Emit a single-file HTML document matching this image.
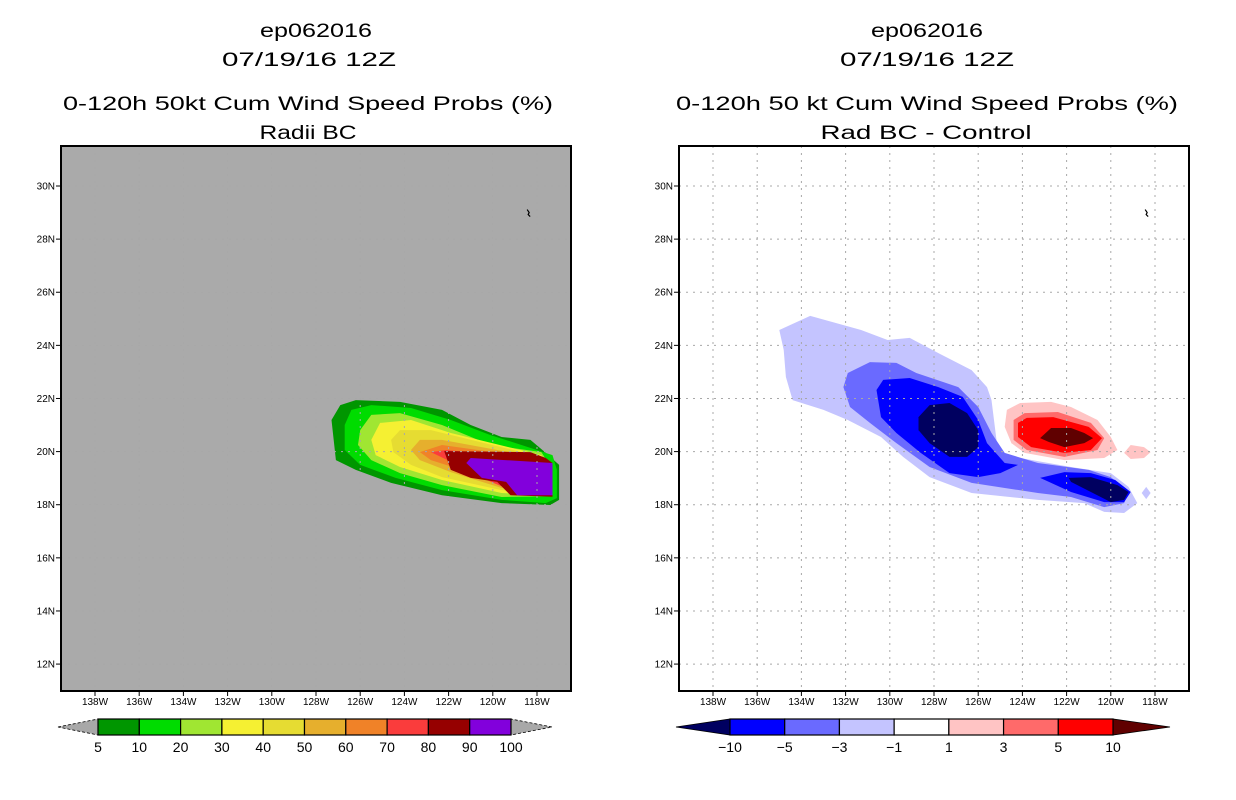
<!DOCTYPE html>
<html><head><meta charset="utf-8"><style>
html,body{margin:0;padding:0;background:#fff;}
svg{display:block;font-family:"Liberation Sans",sans-serif;}
</style></head><body>
<svg id="chart" width="1236" height="800" viewBox="0 0 1236 800">
<g font-size="19" text-anchor="middle" fill="#000">
<text x="316" y="37" textLength="112" lengthAdjust="spacingAndGlyphs">ep062016</text>
<text x="309" y="66" textLength="174" lengthAdjust="spacingAndGlyphs">07/19/16 12Z</text>
<text x="308" y="110" textLength="490" lengthAdjust="spacingAndGlyphs">0-120h 50kt Cum Wind Speed Probs (%)</text>
<text x="308" y="139" textLength="97" lengthAdjust="spacingAndGlyphs">Radii BC</text>
</g>
<g font-size="19" text-anchor="middle" fill="#000">
<text x="927" y="37" textLength="112" lengthAdjust="spacingAndGlyphs">ep062016</text>
<text x="927" y="66" textLength="174" lengthAdjust="spacingAndGlyphs">07/19/16 12Z</text>
<text x="927" y="110" textLength="502" lengthAdjust="spacingAndGlyphs">0-120h 50 kt Cum Wind Speed Probs (%)</text>
<text x="926" y="139" textLength="211" lengthAdjust="spacingAndGlyphs">Rad BC - Control</text>
</g>
<g id="left"></g>
<g id="right"></g>
<g id="cbl"></g>
<g id="cbr"></g>
</svg>
<script>
const lonTicks = [138,136,134,132,130,128,126,124,122,120,118];
const latTicks = [30,28,26,24,22,20,18,16,14,12];
const leftLevels = [5,10,20,30,40,50,60,70,80,90,100];
const leftColors = ['#009600','#00dc00','#a0e632','#f5f032','#e6dc32','#e6af2d','#f08228','#fa3c3c','#960000','#8200dc'];
const rightLevels = [-10,-5,-3,-1,1,3,5,10];
const rightColors = ['#000060','#0000ff','#6a6aff','#c4c4ff','#ffffff','#ffc4c4','#ff6a6a','#ff0000','#600000'];
// contour polygons [lonW, latN]
const probContours = [
 {lvl:5, pts:[[127.3,21.19],[126.9,21.75],[126.2,21.94],[124.2,21.87],[122.3,21.57],[121.0,21.0],[119.6,20.55],[118.3,20.44],[117.6,19.95],[117.0,19.5],[117.0,18.18],[117.4,17.99],[119.6,18.06],[122.3,18.36],[124.6,18.82],[126.2,19.31],[127.1,19.68]]},
 {lvl:10, pts:[[126.7,21.0],[126.4,21.57],[125.5,21.75],[123.7,21.64],[121.9,21.19],[120.1,20.62],[118.7,20.25],[117.3,19.87],[117.1,19.31],[117.1,18.25],[117.6,18.06],[119.6,18.18],[122.3,18.55],[124.4,19.01],[126.0,19.5],[126.7,20.06]]},
 {lvl:20, pts:[[126.0,20.81],[125.5,21.38],[124.2,21.45],[122.3,21.0],[120.1,20.25],[117.8,19.98],[117.3,19.31],[117.3,18.32],[119.6,18.29],[122.3,18.74],[124.2,19.19],[125.5,19.68],[126.1,20.25]]},
 {lvl:30, pts:[[125.5,20.44],[125.1,21.08],[123.7,21.19],[121.9,20.7],[117.8,19.87],[117.3,19.31],[117.3,18.36],[119.6,18.44],[122.3,18.93],[124.2,19.42],[125.3,19.87]]},
 {lvl:40, pts:[[124.6,20.44],[124.2,20.81],[122.8,20.81],[117.8,19.8],[117.4,19.31],[117.4,18.40],[119.6,18.55],[122.3,19.04],[123.7,19.5],[124.5,19.98]]},
 {lvl:50, pts:[[123.7,20.06],[123.3,20.44],[122.3,20.44],[117.8,19.76],[117.5,19.23],[117.5,18.44],[119.6,18.63],[121.9,19.23],[123.3,19.68]]},
 {lvl:60, pts:[[123.3,19.98],[122.3,20.25],[117.8,19.72],[117.5,19.23],[117.5,18.48],[119.4,18.63],[121.4,19.31],[122.8,19.68]]},
 {lvl:70, pts:[[122.8,19.98],[122.1,20.06],[117.6,19.68],[117.5,18.48],[119.2,18.55],[120.5,19.01],[121.4,19.42]]},
 {lvl:80, pts:[[122.2,20.02],[118.3,19.98],[117.6,19.76],[117.3,19.57],[117.3,18.3],[119.2,18.36],[119.8,18.86],[121.0,19.01],[121.9,19.31]]},
 {lvl:90, pts:[[121.2,19.57],[121.0,19.76],[117.3,19.57],[117.3,18.36],[118.9,18.36],[119.4,18.86],[120.5,19.01]]}
];
const diffContours = [
 {lvl:-1, pts:[[135.0,24.58],[133.6,25.11],[131.3,24.58],[130.1,24.2],[129.1,24.28],[127.8,23.71],[126.3,23.07],[125.6,22.43],[125.4,21.94],[125.1,19.95],[124.1,19.76],[121.8,19.42],[120.0,19.19],[119.2,18.67],[118.8,18.06],[119.4,17.69],[120.3,17.73],[121.2,18.06],[123.3,18.18],[126.3,18.44],[128.2,19.04],[129.4,19.8],[130.4,20.55],[131.9,21.19],[133.0,21.57],[134.4,21.94],[134.7,22.81],[134.8,23.83]]},
 {lvl:-3, pts:[[132.1,22.43],[131.9,22.96],[130.9,23.37],[129.7,23.34],[128.8,22.96],[126.9,22.43],[126.0,21.68],[125.4,20.7],[124.8,19.95],[123.3,19.57],[121.0,19.31],[120.0,19.04],[119.2,18.48],[119.4,18.06],[120.3,17.91],[121.8,18.29],[123.3,18.44],[126.3,18.82],[128.2,19.42],[129.7,20.32],[130.9,21.08],[131.8,21.68]]},
 {lvl:-5, pts:[[130.6,22.32],[130.3,22.7],[129.1,22.77],[127.8,22.43],[126.7,22.06],[126.0,21.19],[125.6,20.32],[124.8,19.57],[124.2,19.5],[125.0,19.19],[126.0,19.04],[127.3,19.19],[128.6,19.95],[129.7,20.7],[130.4,21.3]]},
 {lvl:-5, pts:[[123.2,19.01],[122.1,19.23],[120.9,19.19],[119.8,18.93],[119.1,18.48],[119.4,18.1],[120.3,18.1],[121.8,18.48],[122.8,18.86]]},
 {lvl:-10, pts:[[128.7,21.3],[128.2,21.75],[127.3,21.83],[126.5,21.45],[126.0,20.81],[126.0,20.17],[126.5,19.8],[127.3,19.8],[128.2,20.32],[128.7,20.81]]},
 {lvl:-10, pts:[[121.9,19.01],[120.9,19.04],[119.7,18.74],[119.2,18.48],[119.4,18.18],[120.0,18.1],[120.9,18.48],[121.8,18.86]]},
 {lvl:1, pts:[[124.7,21.57],[124.1,21.83],[122.7,21.87],[121.8,21.68],[120.6,21.19],[120.0,20.55],[119.7,20.06],[120.3,19.76],[122.1,19.68],[123.9,19.95],[124.5,20.32],[124.8,20.93]]},
 {lvl:3, pts:[[124.4,21.19],[123.9,21.45],[122.4,21.49],[120.9,21.08],[120.3,20.51],[120.6,20.06],[122.1,19.8],[123.8,20.06],[124.4,20.44]]},
 {lvl:5, pts:[[124.2,21.08],[123.8,21.27],[122.6,21.3],[121.0,20.93],[120.4,20.51],[120.9,20.06],[122.1,19.95],[123.6,20.17],[124.2,20.55]]},
 {lvl:10, pts:[[123.2,20.51],[122.7,20.89],[121.8,20.89],[121.2,20.7],[120.8,20.51],[121.2,20.32],[122.1,20.17],[122.8,20.36]]},
 {lvl:1, pts:[[119.4,19.95],[119.1,20.25],[118.5,20.17],[118.2,19.98],[118.5,19.76],[119.1,19.72]]},
 {lvl:-1, pts:[[118.4,18.67],[118.2,18.44],[118.4,18.21],[118.6,18.44]]}
];
const islandPos = [118.4, 29.0];

const NS = 'http://www.w3.org/2000/svg';
function mk(tag, attrs, parent){const e=document.createElementNS(NS,tag);for(const k in attrs)e.setAttribute(k,attrs[k]);parent.appendChild(e);return e;}
const PLOT_TOP=146, PLOT_BOT=691, PLOT_W=510;
function xScale(x0){return lon=>x0+(138-lon)*22.1;}
function yScale(lat){return 186+(30-lat)*26.56;}

function colorProb(l){return leftColors[leftLevels.indexOf(l)];}
function colorDiff(l){
  if(l===-10) return rightColors[0];
  if(l===-5) return rightColors[1];
  if(l===-3) return rightColors[2];
  if(l===-1) return rightColors[3];
  if(l===1) return rightColors[5];
  if(l===3) return rightColors[6];
  if(l===5) return rightColors[7];
  return rightColors[8];
}

function drawMap(g, left, bg, contours, colorFn, name){
  const x0 = left+34;
  const xs = xScale(x0);
  const r=mk('rect',{x:left,y:PLOT_TOP,width:PLOT_W,height:PLOT_BOT-PLOT_TOP,fill:bg},g);
  
  
  contours.forEach((c,i)=>{
    const p=mk('polygon',{points:c.pts.map(q=>xs(q[0]).toFixed(1)+','+yScale(q[1]).toFixed(1)).join(' '),fill:colorFn(c.lvl)},g);
    
    
  });
  lonTicks.forEach(lon=>{
    const l=mk('line',{x1:xs(lon),x2:xs(lon),y1:PLOT_TOP,y2:PLOT_BOT,stroke:'#a8a8a8','stroke-dasharray':'2,5','stroke-width':1},g);
    
    
  });
  latTicks.forEach(lat=>{
    const l=mk('line',{x1:left,x2:left+PLOT_W,y1:yScale(lat),y2:yScale(lat),stroke:'#a8a8a8','stroke-dasharray':'2,5','stroke-width':1},g);
    
    
  });
  const isl=mk('path',{d:`M${xs(islandPos[0])-1},${yScale(islandPos[1])-3} l2,3 l-1,2 l2,2`,stroke:'#000',fill:'none','stroke-width':1.2},g);
  
  
  const f=mk('rect',{x:left,y:PLOT_TOP,width:PLOT_W,height:PLOT_BOT-PLOT_TOP,fill:'none',stroke:'#000','stroke-width':2},g);
  
  
  lonTicks.forEach(lon=>{
    mk('line',{x1:xs(lon),x2:xs(lon),y1:PLOT_BOT,y2:PLOT_BOT+5,stroke:'#000','stroke-width':1},g);
    const t=mk('text',{x:xs(lon),y:PLOT_BOT+14,'font-size':10,'text-anchor':'middle'},g);
    t.textContent=lon+'W';
    
    
  });
  latTicks.forEach(lat=>{
    mk('line',{x1:left-5,x2:left,y1:yScale(lat),y2:yScale(lat),stroke:'#000','stroke-width':1},g);
    const t=mk('text',{x:left-6,y:yScale(lat)+3.5,'font-size':10,'text-anchor':'end'},g);
    t.textContent=lat+'N';
    
    
  });
}
drawMap(document.getElementById('left'),61,'#aaaaaa',probContours,colorProb,'left');
drawMap(document.getElementById('right'),679,'#ffffff',diffContours,colorDiff,'right');

function drawBar(g, x1, x2, colors, labels, triL, triR, tipL, tipR, name){
  const n=colors.length, w=(x2-x1)/n, y1=719, y2=735, ym=727;
  const a=mk('polygon',{points:`${tipL},${ym} ${x1},${y1} ${x1},${y2}`,fill:triL,stroke:'#000','stroke-width':0.8,'stroke-dasharray':triL==='#a8a8a8'?'3,2':'none'},g);
  
  
  const b=mk('polygon',{points:`${tipR},${ym} ${x2},${y1} ${x2},${y2}`,fill:triR,stroke:'#000','stroke-width':0.8,'stroke-dasharray':triR==='#a8a8a8'?'3,2':'none'},g);
  
  
  colors.forEach((c,i)=>{
    const r=mk('rect',{x:x1+i*w,y:y1,width:w,height:y2-y1,fill:c,stroke:'#000','stroke-width':1.2},g);
    
    
  });
  labels.forEach((l,i)=>{
    const t=mk('text',{x:x1+i*w,y:752,'font-size':14,'text-anchor':'middle'},g);
    t.textContent=String(l).replace('-','\u2212');
    
    
  });
}
drawBar(document.getElementById('cbl'),98,511,leftColors,leftLevels,'#a8a8a8','#a8a8a8',58,552,'left-colorbar');
drawBar(document.getElementById('cbr'),730,1113,rightColors.slice(1,8),rightLevels,rightColors[0],rightColors[8],676,1170,'right-colorbar');
</script>
</body></html>
